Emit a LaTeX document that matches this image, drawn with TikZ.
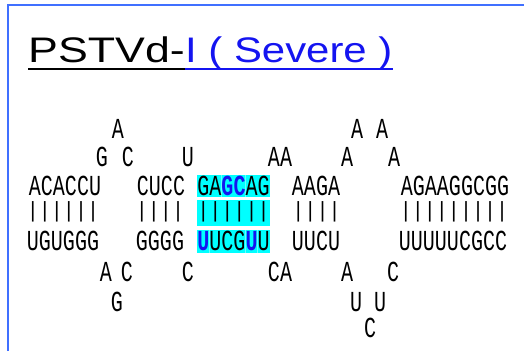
\documentclass[tikz,border=0pt]{standalone}
\usepackage{fontspec}
\setmainfont{Liberation Sans}
\newfontfamily\titlefont[FakeStretch=1.26]{Liberation Sans}
\newfontfamily\subtitlefont[FakeStretch=1.18]{Liberation Sans}
\newfontfamily\seqfont[FakeStretch=0.69]{Liberation Mono}
\newfontfamily\barfont[FakeStretch=0.91]{Liberation Mono}
\definecolor{frameblue}{RGB}{64,112,255}
\definecolor{linkblue}{RGB}{20,20,240}
\definecolor{hicyan}{RGB}{0,255,255}
\newcommand{\hb}[1]{{\color{linkblue}\bfseries #1}}

\begin{document}
\begin{tikzpicture}[x=1pt, y=-1pt,
  nt/.style={inner sep=0pt, font=\seqfont\fontsize{29}{29}\selectfont},
  bars/.style={inner sep=0pt, font=\barfont\fontsize{22}{22}\selectfont},
  ttlstyle/.style={anchor=base west, inner sep=0pt, font=\titlefont\fontsize{35.5}{35.5}\selectfont},
  uline/.style={line width=1.5pt}
]
\useasboundingbox (0,0) rectangle (524,351);
\draw[frameblue, line width=2pt] (8,351) -- (8,5) -- (524,5);

\node[ttlstyle] (ttl) at (28,62) {PSTVd-};
\node[ttlstyle, text=linkblue, font=\subtitlefont\fontsize{35.5}{35.5}\selectfont] (ttlsub) at (ttl.base east) {I ( Severe )};
\draw[uline] ([yshift=-7pt]ttl.base west) -- ([yshift=-7pt]ttl.base east);
\draw[uline, linkblue] ([yshift=-7pt]ttlsub.base west) -- ([yshift=-7pt]ttlsub.base east);

\fill[hicyan] (197,175) rectangle (270,197);
\fill[hicyan] (197,200) rectangle (270,226);
\fill[hicyan] (197,230) rectangle (270,253);
\draw[white!40!hicyan, line width=0.5pt] (221,175) -- (221,197) (245,175) -- (245,197);
\draw[white!40!hicyan, line width=0.5pt] (209,230) -- (209,253) (245,230) -- (245,253) (257,230) -- (257,253);

\node[nt] (la1) at (118,129) {A};
\node[nt] (la2) at (357,129) {A};
\node[nt] (la3) at (382,129) {A};

\node[nt] (lb1) at (102,157) {G};
\node[nt] (lb2) at (128,157) {C};
\node[nt] (lb3) at (188,157) {U};
\node[nt] (lb4) at (280,157) {AA};
\node[nt] (lb5) at (347,157) {A};
\node[nt] (lb6) at (394,157) {A};

\node[nt] (s1) at (65,186) {ACACCU};
\node[nt] (s2) at (161,186) {CUCC};
\node[nt] (s3) at (233.5,186) {GA\hb{GC}AG};
\node[nt] (s4) at (316,186) {AAGA};
\node[nt] (s5) at (455,186) {AGAAGGCGG};

\node[bars] (p1) at (63,212) {||||||};
\node[bars] (p2) at (160,212) {||||};
\node[bars] (p3) at (233.5,212) {||||||};
\node[bars] (p4) at (316.5,212) {||||};
\node[bars] (p5) at (454,212) {|||||||||};

\node[nt] (r1) at (63,241) {UGUGGG};
\node[nt] (r2) at (160,241) {GGGG};
\node[nt] (r3) at (233.5,241) {\hb{U}UCG\hb{U}U};
\node[nt] (r4) at (316,241) {UUCU};
\node[nt] (r5) at (453,241) {UUUUUCGCC};

\node[nt] (lc1) at (106,272) {A};
\node[nt] (lc2) at (127,272) {C};
\node[nt] (lc3) at (188,272) {C};
\node[nt] (lc4) at (280,272) {CA};
\node[nt] (lc5) at (347,272) {A};
\node[nt] (lc6) at (393,272) {C};

\node[nt] (ld1) at (117,302) {G};
\node[nt] (ld2) at (356,302) {U};
\node[nt] (ld3) at (380,302) {U};

\node[nt] (le1) at (370,328) {C};
\end{tikzpicture}
\end{document}
